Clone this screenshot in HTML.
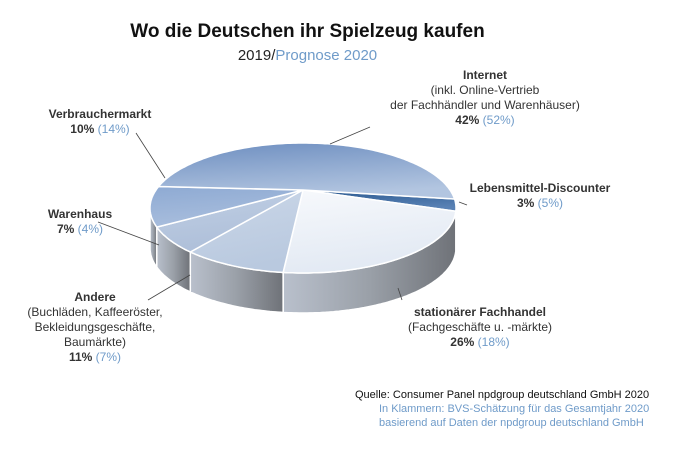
<!DOCTYPE html>
<html><head><meta charset="utf-8"><style>
body{margin:0;background:#fff;}
#wrap{position:relative;width:675px;height:450px;overflow:hidden;font-family:"Liberation Sans",sans-serif;}
.t{position:absolute;font-size:12px;color:#333;line-height:15px;text-align:center;white-space:nowrap;}
.b{font-weight:bold;}
.blue{color:#6f9bc9;}
</style></head><body>
<div id="wrap">
<div class="t b" style="left:0;width:615px;top:20px;font-size:19px;line-height:24px;color:#111">Wo die Deutschen ihr Spielzeug kaufen</div>
<div class="t" style="left:0;width:615px;top:47px;font-size:15px;line-height:18px;color:#222">2019/<span class="blue">Prognose 2020</span></div>
<svg id="pie" width="675" height="450" style="position:absolute;left:0;top:0"></svg>
<div class="t" style="left:370px;width:230px;top:68px"><span class="b">Internet</span><br>(inkl. Online-Vertrieb<br>der Fachhändler und Warenhäuser)<br><span class="b">42%</span> <span class="blue">(52%)</span></div>
<div class="t" style="left:40px;width:120px;top:107px"><span class="b">Verbrauchermarkt</span><br><span class="b">10%</span> <span class="blue">(14%)</span></div>
<div class="t" style="left:465px;width:150px;top:181px"><span class="b">Lebensmittel-Discounter</span><br><span class="b">3%</span> <span class="blue">(5%)</span></div>
<div class="t" style="left:30px;width:100px;top:207px"><span class="b">Warenhaus</span><br><span class="b">7%</span> <span class="blue">(4%)</span></div>
<div class="t" style="left:15px;width:160px;top:290px"><span class="b">Andere</span><br>(Buchläden, Kaffeeröster,<br>Bekleidungsgeschäfte,<br>Baumärkte)<br><span class="b">11%</span> <span class="blue">(7%)</span></div>
<div class="t" style="left:405px;width:150px;top:305px"><span class="b">stationärer Fachhandel</span><br>(Fachgeschäfte u. -märkte)<br><span class="b">26%</span> <span class="blue">(18%)</span></div>
<div class="t" style="left:355px;top:388px;text-align:left;font-size:11px;line-height:14px;color:#111">Quelle: Consumer Panel npdgroup deutschland GmbH 2020<br><span class="blue" style="padding-left:24px">In Klammern: BVS-Schätzung für das Gesamtjahr 2020</span><br><span class="blue" style="padding-left:24px">basierend auf Daten der npdgroup deutschland GmbH</span></div>
</div>
<script>
const categories=["Lebensmittel-Discounter","stationärer Fachhandel","Andere","Warenhaus","Verbrauchermarkt","Internet"];
const values2019=[3,26,11,7,10,42];
const values2020=[5,18,7,4,14,52];
const topColors=[["#2c5a90","#5a82b5"],["#f7f9fc","#e2e9f3"],["#cbd7e8","#b9c9df"],["#c0cfe4","#aebfd9"],["#8eaad3","#a9bedd"],["#6d8ec0","#b2c5e0"]];
const svg=document.getElementById('pie');
const NS='http://www.w3.org/2000/svg';
const cx=303,cy=208,rx=153,ry=65,depth=40,apexY=190,start=-8;
const total=values2019.reduce((a,b)=>a+b,0);
function pt(deg,dy){const r=deg*Math.PI/180;return [cx+rx*Math.cos(r),cy+ry*Math.sin(r)+(dy||0)];}
let defs=document.createElementNS(NS,'defs');svg.appendChild(defs);
let g='<linearGradient id="side" x1="0" x2="1"><stop offset="0" stop-color="#b9c0cc"/><stop offset="0.5" stop-color="#9aa0a8"/><stop offset="1" stop-color="#6f7278"/></linearGradient>';
topColors.forEach((c,i)=>{g+=`<linearGradient id="g${i}" x1="0" y1="0" x2="0.3" y2="1"><stop offset="0" stop-color="${c[0]}"/><stop offset="1" stop-color="${c[1]}"/></linearGradient>`;});
defs.innerHTML=g;
let a=start;const angles=[];
values2019.forEach(v=>{const s=a,e=a+v/total*360;angles.push([s,e]);a=e;});
angles.forEach(([s,e],i)=>{
  const s2=Math.max(s,0),e2=Math.min(e,180);
  if(e2<=s2) return;
  let d='';
  for(let t=s2;t<=e2;t+=1){const p=pt(t);d+=(d?'L':'M')+p[0].toFixed(1)+','+p[1].toFixed(1);}
  let p=pt(e2);d+='L'+p[0]+','+p[1];
  for(let t=e2;t>=s2;t-=1){const q=pt(t,depth);d+='L'+q[0].toFixed(1)+','+q[1].toFixed(1);}
  p=pt(s2,depth);d+='L'+p[0]+','+p[1]+'Z';
  const path=document.createElementNS(NS,'path');
  path.setAttribute('d',d);path.setAttribute('fill','url(#side)');path.setAttribute('stroke','#fff');path.setAttribute('stroke-width','1.5');
  
  
  svg.appendChild(path);
});
angles.forEach(([s,e],i)=>{
  let d='M'+cx+','+apexY;
  for(let t=s;t<=e;t+=1){const p=pt(t);d+='L'+p[0].toFixed(1)+','+p[1].toFixed(1);}
  const p=pt(e);d+='L'+p[0]+','+p[1]+'Z';
  const path=document.createElementNS(NS,'path');
  path.setAttribute('d',d);path.setAttribute('fill','url(#g'+i+')');path.setAttribute('stroke','#fff');path.setAttribute('stroke-width','1.5');
  
  
  svg.appendChild(path);
});
const leaders=[[459,202,467,205],[398,288,402,300],[190,275,148,300],[159,245,98,222],[165,178,136,133],[330,144,370,127]];
leaders.forEach(l=>{const ln=document.createElementNS(NS,'polyline');
ln.setAttribute('points',l[0]+','+l[1]+' '+l[2]+','+l[3]);ln.setAttribute('stroke','#444');ln.setAttribute('fill','none');ln.setAttribute('stroke-width','0.8');


svg.appendChild(ln);});
</script>
</body></html>
